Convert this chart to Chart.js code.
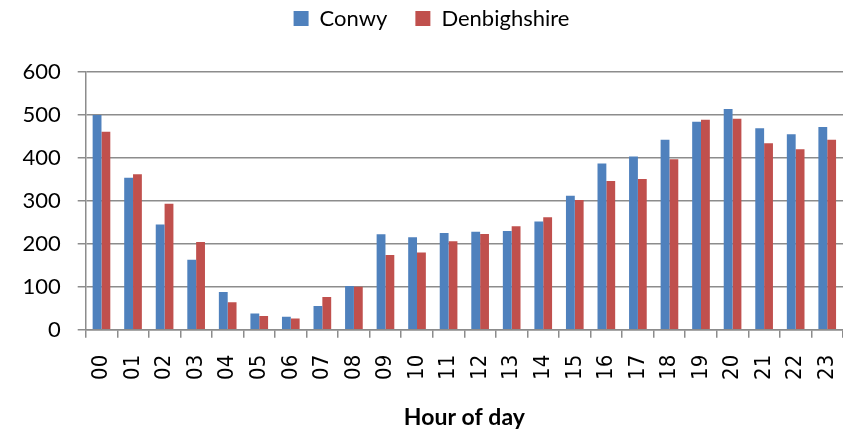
<!DOCTYPE html>
<html>
<head>
<meta charset="utf-8">
<script src="https://cdn.jsdelivr.net/npm/chart.js@4/dist/chart.umd.min.js"></script>
<style>
  html, body { margin: 0; padding: 0; background: #ffffff; }
  #wrap { width: 843px; height: 435px; position: relative; }
</style>
</head>
<body>
<div id="wrap"><canvas id="chart"></canvas></div>
<script>
// Hour-of-day categories and counts per local authority
const hours = ['00','01','02','03','04','05','06','07','08','09','10','11',
               '12','13','14','15','16','17','18','19','20','21','22','23'];
const conwy = [500, 354, 245, 163, 88, 38, 30, 55, 102, 222, 215, 225,
               228, 230, 252, 312, 387, 403, 442, 484, 514, 469, 455, 472];
const denbighshire = [461, 362, 293, 204, 64, 32, 26, 76, 100, 174, 180, 206,
                      223, 241, 262, 302, 346, 351, 397, 489, 491, 434, 420, 442];
const seriesNames = ['Conwy', 'Denbighshire'];
const axisTitle = 'Hour of day';
const yMin = 0;
const yMax = 600;
const yStep = 100;

const gridGrey = '#8c8c8c';

// Extra room under the legend before the plot area starts
const legendSpacing = {
  id: 'legendSpacing',
  beforeInit(chart) {
    const legend = chart.legend;
    if (!legend) return;
    const baseFit = legend.fit;
    legend.fit = function () {
      baseFit.call(this);
      this.height = 92.5;
    };
  }
};

new Chart(document.getElementById('chart'), {
  type: 'bar',
  data: {
    labels: hours,
    datasets: [
      { label: seriesNames[0], data: conwy, backgroundColor: '#4F81BD', borderWidth: 0 },
      { label: seriesNames[1], data: denbighshire, backgroundColor: '#C0504D', borderWidth: 0 }
    ]
  },
  options: {
    responsive: true,
    maintainAspectRatio: false,
    devicePixelRatio: 1,
    animation: false,
    layout: { padding: { top: -20.5, left: 20, right: 0, bottom: 0 } },
    datasets: { bar: { categoryPercentage: 0.56, barPercentage: 1.0 } },
    plugins: {
      legend: {
        position: 'top',
        labels: {
          boxWidth: 15,
          boxHeight: 15,
          padding: 28,
          color: '#000000',
          font: { family: 'Lato, "Open Sans", sans-serif', size: 22 }
        }
      },
      tooltip: { enabled: false }
    },
    scales: {
      x: {
        afterFit(scale) {
          scale.height = 105.3;
          scale.paddingLeft = 0;
          scale.paddingRight = 0;
        },
        grid: {
          drawOnChartArea: false,
          drawTicks: true,
          tickLength: 8,
          color: gridGrey,
          lineWidth: 1.5
        },
        border: { display: true, color: gridGrey, width: 1.5 },
        ticks: {
          color: '#000000',
          minRotation: 90,
          maxRotation: 90,
          padding: 17,
          autoSkip: false,
          font: { family: '"DejaVu Sans Condensed", "Liberation Sans", sans-serif', size: 22 }
        },
        title: {
          display: true,
          text: axisTitle,
          color: '#000000',
          font: { family: 'Lato, "Open Sans", sans-serif', size: 23, weight: 'bold' },
          padding: { top: 4, bottom: 3.5 }
        }
      },
      y: {
        min: yMin,
        max: yMax,
        afterFit(scale) { scale.width = 65.7; },
        grid: {
          drawOnChartArea: true,
          drawTicks: true,
          tickLength: 8,
          color: gridGrey,
          lineWidth: 1.5
        },
        border: { display: true, color: gridGrey, width: 1.5 },
        ticks: {
          stepSize: yStep,
          color: '#000000',
          padding: 17,
          font: { family: 'Lato, "Open Sans", sans-serif', size: 22 }
        }
      }
    }
  },
  plugins: [legendSpacing]
});
</script>
</body>
</html>
